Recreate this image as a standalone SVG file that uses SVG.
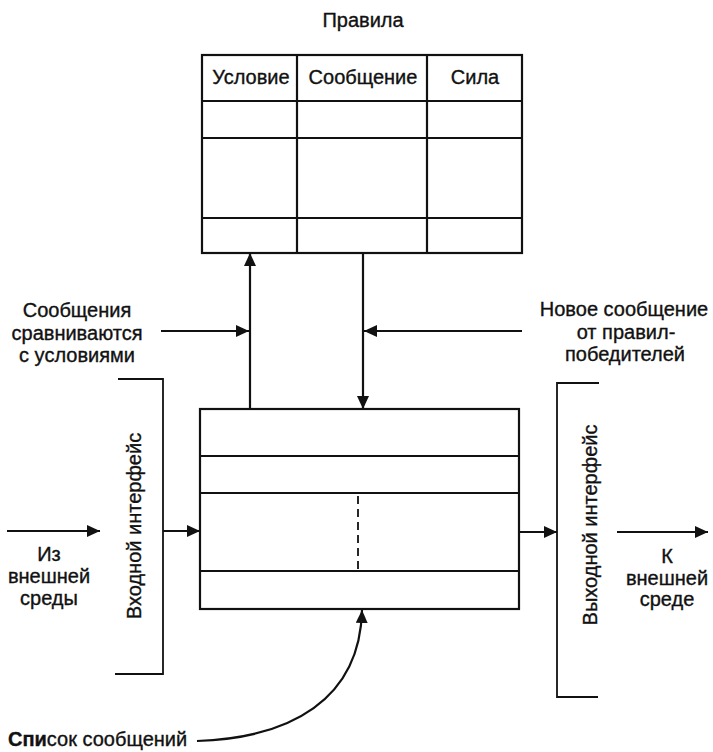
<svg xmlns="http://www.w3.org/2000/svg" width="713" height="752" viewBox="0 0 713 752">
<style>
text{font-family:"Liberation Sans",Arial,sans-serif;font-size:20px;fill:#111;stroke:#111;stroke-width:0.35}
.c{text-anchor:middle}
.box{fill:none;stroke:#111;stroke-width:2.2}
.ln{fill:none;stroke:#111;stroke-width:2.2}
.thin{fill:none;stroke:#111;stroke-width:1.8}
.dash{fill:none;stroke:#111;stroke-width:1.8;stroke-dasharray:8 5}
</style>
<defs>
<marker id="ah" markerUnits="userSpaceOnUse" markerWidth="14" markerHeight="12" refX="13" refY="6" orient="auto">
<path d="M0,0 L13,6 L0,12 Z" fill="#111"/>
</marker>
</defs>
<g id="rules">
<text class="c" x="363" y="27">Правила</text>
<rect class="box" x="202" y="55" width="320" height="198"/>
<line class="ln" x1="297" y1="55" x2="297" y2="253"/>
<line class="ln" x1="427" y1="55" x2="427" y2="253"/>
<line class="ln" x1="202" y1="101" x2="522" y2="101"/>
<line class="ln" x1="202" y1="138" x2="522" y2="138"/>
<line class="ln" x1="202" y1="218" x2="522" y2="218"/>
<text class="c" x="251" y="84">Условие</text>
<text class="c" x="363" y="84">Сообщение</text>
<text class="c" x="475" y="84">Сила</text>
</g>
<g id="messageList">
<rect class="box" x="200" y="409" width="319" height="200"/>
<line class="ln" x1="200" y1="456" x2="519" y2="456"/>
<line class="ln" x1="200" y1="493" x2="519" y2="493"/>
<line class="ln" x1="200" y1="571" x2="519" y2="571"/>
<line class="dash" x1="358" y1="496" x2="358" y2="571"/>
</g>
<g id="inputInterface">
<path class="thin" d="M118,379 H163 V674 H115"/>
<text class="c" transform="translate(141,526) rotate(-90)" x="0" y="0">Входной интерфейс</text>
</g>
<g id="outputInterface">
<path class="thin" d="M599,383 H557 V697 H598"/>
<text class="c" transform="translate(597,525) rotate(-90)" x="0" y="0">Выходной интерфейс</text>
</g>
<g id="labels">
<text class="c" x="77" y="317">Сообщения</text>
<text class="c" x="77" y="340">сравниваются</text>
<text class="c" x="77" y="362">с условиями</text>
<text class="c" x="624" y="316">Новое сообщение</text>
<text class="c" x="626" y="339">от правил-</text>
<text class="c" x="625" y="361">победителей</text>
<text class="c" x="49" y="561">Из</text>
<text class="c" x="49" y="583">внешней</text>
<text class="c" x="49" y="605">среды</text>
<text class="c" x="667" y="563">К</text>
<text class="c" x="667" y="585">внешней</text>
<text class="c" x="667" y="606">среде</text>
<text x="8" y="746"><tspan font-weight="bold">Спи</tspan>сок сообщений</text>
</g>
<g id="connectors">
<line class="ln" x1="250" y1="409" x2="250" y2="253" marker-end="url(#ah)"/>
<line class="ln" x1="363" y1="253" x2="363" y2="409" marker-end="url(#ah)"/>
<line class="ln" x1="161" y1="331" x2="249" y2="331" marker-end="url(#ah)"/>
<line class="ln" x1="522" y1="331" x2="364" y2="331" marker-end="url(#ah)"/>
<line class="ln" x1="7" y1="531" x2="100" y2="531" marker-end="url(#ah)"/>
<line class="ln" x1="163" y1="531" x2="200" y2="531" marker-end="url(#ah)"/>
<line class="ln" x1="519" y1="532" x2="557" y2="532" marker-end="url(#ah)"/>
<line class="ln" x1="617" y1="532" x2="708" y2="532" marker-end="url(#ah)"/>
<path class="ln" d="M197,741 C290,738 360,700 362,610" marker-end="url(#ah)"/>
</g>
</svg>
